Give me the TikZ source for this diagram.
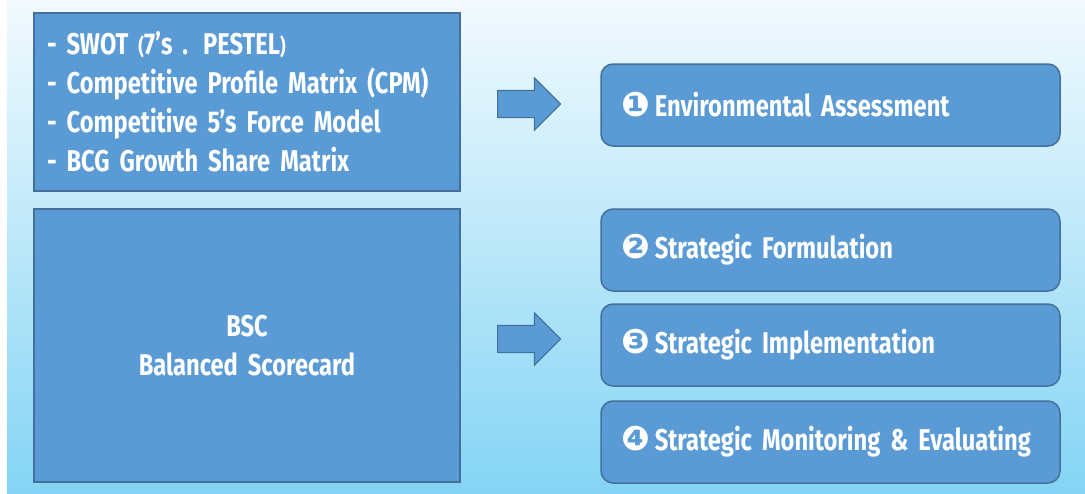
\documentclass[tikz,border=0pt]{standalone}
\usepackage{fontspec}
\setmainfont{Fira Sans}[FakeStretch=0.79]
\newfontfamily\dingfont{DejaVu Sans}
\usetikzlibrary{shapes.arrows, positioning}

\definecolor{bgtop}{RGB}{242,250,254}
\definecolor{bgbot}{RGB}{132,212,244}
\definecolor{boxfill}{RGB}{91,155,213}
\definecolor{boxline}{RGB}{65,113,156}

\newcommand{\stepnum}[1]{{\dingfont\fontsize{34}{34}\selectfont #1}\hspace{5pt}}
\newcommand{\smallparen}[1]{{\fontsize{22}{39}\selectfont #1}}
\newcommand{\tightspaces}{\spaceskip=4.5pt plus 1pt\relax}

\tikzset{
  toolbox/.style={draw=boxline, fill=boxfill, line width=1.5pt, text=white,
    font=\bfseries\fontsize{30}{39}\selectfont\tightspaces,
    text width=400pt, inner xsep=13pt},
  stagebox/.style={draw=boxline, fill=boxfill, line width=1.5pt, rounded corners=12pt,
    text=white, font=\bfseries\fontsize{30}{36}\selectfont\tightspaces,
    minimum height=82pt, text width=419pt, inner xsep=20pt, align=left},
  blockarrow/.style={single arrow, draw=boxline, fill=boxfill, line width=1.2pt,
    minimum height=63pt, inner xsep=0pt, inner ysep=13pt,
    single arrow head extend=12.5pt, anchor=tail}
}

\begin{document}
\begin{tikzpicture}[x=1pt, y=-1pt]
  \useasboundingbox (0,0) rectangle (1085,493);
  % background
  \fill[white] (0,0) rectangle (1085,493);
  \shade[top color=bgtop, bottom color=bgbot] (7,0) rectangle (1085,493);

  % tools
  \node[toolbox, minimum height=178pt, align=left] (tools) at (247,102)
    {- SWOT \smallparen{(}7’s . PESTEL\smallparen{)}\\
     - Competitive Profile Matrix (CPM)\\
     - Competitive 5’s Force Model\\
     - BCG Growth Share Matrix};
  \node[toolbox, minimum height=273pt, align=center] (bsc) at (247,345.5)
    {BSC\\Balanced Scorecard};

  % arrows
  \node[blockarrow] (arrowtop) at (497,104) {};
  \node[blockarrow] (arrowbsc) at (497,339) {};

  % stages
  \node[stagebox] (assess) at (830.5,105) {\stepnum{❶}Environmental Assessment};
  \node[stagebox] (formul) at (830.5,250) {\stepnum{❷}Strategic Formulation};
  \node[stagebox] (implem) at (830.5,345) {\stepnum{❸}Strategic Implementation};
  \node[stagebox] (monitor) at (830.5,442) {\stepnum{❹}Strategic Monitoring \& Evaluating};
\end{tikzpicture}
\end{document}
